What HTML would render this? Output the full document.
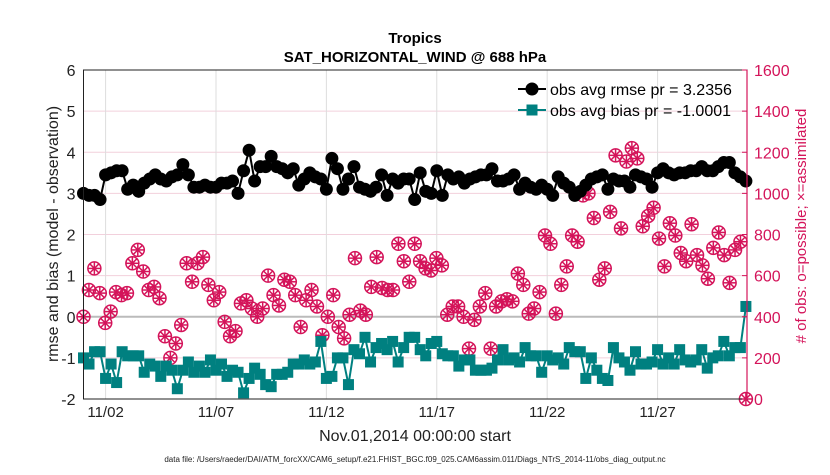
<!DOCTYPE html>
<html><head><meta charset="utf-8"><style>
body{margin:0;background:#fff;width:830px;height:470px;overflow:hidden;font-family:"Liberation Sans",sans-serif}
</style></head><body>
<svg id="chart" width="830" height="470" xmlns="http://www.w3.org/2000/svg" font-family="Liberation Sans, sans-serif">
<rect x="0" y="0" width="830" height="470" fill="#fff"/>
<g id="grid"></g><g id="series"></g><g id="axes"></g>
</svg>
<script>
const rmse=[3.0,2.95,2.95,2.85,3.45,3.5,3.55,3.55,3.1,3.2,3.05,3.25,3.35,3.45,3.35,3.3,3.4,3.45,3.7,3.45,3.15,3.15,3.2,3.15,3.15,3.25,3.25,3.3,3.0,3.55,4.05,3.3,3.65,3.65,3.9,3.65,3.6,3.5,3.6,3.2,3.35,3.5,3.4,3.35,3.1,3.85,3.6,3.1,3.35,3.65,3.15,3.1,3.05,3.15,3.45,2.95,3.35,3.25,3.35,3.35,2.85,
3.5,3.05,3.0,3.55,2.95,3.45,3.35,3.4,3.25,3.35,3.4,3.45,3.45,3.6,3.3,3.3,3.35,3.45,3.1,3.25,3.15,3.1,3.2,3.1,2.95,3.4,3.25,3.15,2.95,3.05,3.2,3.35,3.4,3.45,3.1,3.35,3.3,3.3,3.15,3.45,3.4,3.35,3.15,3.5,3.6,3.5,3.45,3.5,3.5,3.55,3.55,3.65,3.55,3.55,3.65,3.75,3.75,3.5,3.4,3.3];
const bias=[-1.0,-1.15,-0.85,-0.85,-1.5,-1.15,-1.6,-0.85,-0.95,-0.95,-0.95,-1.35,-1.15,-1.2,-1.45,-1.2,-1.3,-1.75,-1.3,-1.1,-1.35,-1.2,-1.35,-1.05,-1.3,-1.15,-1.45,-1.3,-1.35,-1.85,-1.5,-1.25,-1.4,-1.65,-1.7,-1.4,-1.4,-1.35,-1.15,-1.15,-1.05,-1.15,-1.1,-0.6,-1.5,-1.45,-1.0,-1.0,-1.65,-0.8,-0.9,-0.5,-1.1,-0.75,-0.65,-0.8,-0.6,-1.1,-0.75,-0.5,-0.5,
-0.8,-0.95,-0.65,-0.6,-0.9,-0.95,-0.95,-1.2,-1.05,-1.05,-1.3,-1.3,-1.3,-1.25,-1.05,-0.8,-1.05,-1.0,-1.1,-0.75,-0.95,-0.95,-1.35,-0.95,-1.05,-1.0,-1.15,-0.75,-0.85,-0.85,-1.5,-1.0,-1.3,-1.5,-1.55,-0.75,-1.0,-1.1,-1.3,-0.85,-1.15,-1.15,-1.1,-0.8,-1.15,-1.0,-1.15,-0.8,-1.05,-1.1,-1.05,-0.8,-1.25,-1.0,-0.95,-0.6,-0.95,-0.75,-0.75,0.25];
const nobs=[400,530,635,515,370,425,520,505,515,660,725,620,530,545,490,305,200,270,360,660,570,660,690,555,480,520,375,305,330,465,480,440,400,440,600,505,455,580,570,505,350,480,530,450,310,400,505,350,295,410,685,430,410,545,690,540,530,530,755,670,
570,755,670,635,625,685,650,410,450,450,400,245,385,450,515,245,450,475,485,475,610,555,415,440,520,795,755,415,555,645,795,765,990,1000,880,580,635,910,1185,830,1155,1220,1170,840,890,930,780,645,855,795,710,670,850,700,650,585,735,810,700,565,725,765,0];
const leftTicks=[-2,-1,0,1,2,3,4,5,6];
const rightTicks=[0,200,400,600,800,1000,1200,1400,1600];
const dayTicks=[1,6,11,16,21,26];
const dayLabels=["11/02","11/07","11/12","11/17","11/22","11/27"];
const X0=83.5,X1=747,Y0=399,Y1=70;
const fx=d=>X0+d*(X1-X0)/30.05;
const fy=v=>Y0-(v+2)*(Y0-Y1)/8;
const fr=c=>Y0-c*(Y0-Y1)/1600;
const NS="http://www.w3.org/2000/svg";
function mk(p,t,a,txt){const e=document.createElementNS(NS,t);for(const k in a)e.setAttribute(k,a[k]);if(txt!==undefined)e.textContent=txt;p.appendChild(e);return e;}
const G=document.getElementById('grid'),S=document.getElementById('series'),A=document.getElementById('axes');
leftTicks.forEach(v=>{const l=mk(G,'line',{x1:X0,x2:X1,y1:fy(v),y2:fy(v),stroke:'#f2d0dc','stroke-width':1});

});
dayTicks.forEach(d=>{const l=mk(G,'line',{x1:fx(d),x2:fx(d),y1:Y1,y2:Y0,stroke:'#ddd','stroke-width':1});

});
const z=mk(G,'line',{x1:X0,x2:X1,y1:fy(0),y2:fy(0),stroke:'#bbb','stroke-width':2});


const dx=i=>30*i/(rmse.length-1);
const og=mk(S,'g',{});


nobs.forEach((c,i)=>{const x=fx(30*i/(nobs.length-1)),y=fr(c);
const m=mk(og,'g',{stroke:'#d4145a','stroke-width':1.5,fill:'none'});


mk(m,'circle',{cx:x,cy:y,r:6.5});
for(let k=0;k<4;k++){const a=k*Math.PI/4;mk(m,'line',{x1:x-6.5*Math.cos(a),y1:y-6.5*Math.sin(a),x2:x+6.5*Math.cos(a),y2:y+6.5*Math.sin(a)});}
});
const bp=mk(S,'polyline',{points:bias.map((v,i)=>fx(30*i/(bias.length-1))+','+fy(v)).join(' '),fill:'none',stroke:'#008080','stroke-width':2});


bias.forEach((v,i)=>{const r=mk(S,'rect',{x:fx(30*i/(bias.length-1))-5.5,y:fy(v)-5.5,width:11,height:11,fill:'#008080'});

});
const rp=mk(S,'polyline',{points:rmse.map((v,i)=>fx(dx(i))+','+fy(v)).join(' '),fill:'none',stroke:'#000','stroke-width':2});


rmse.forEach((v,i)=>{const c=mk(S,'circle',{cx:fx(dx(i)),cy:fy(v),r:6.5,fill:'#000'});

});
const fr0=mk(A,'rect',{x:X0,y:Y1,width:X1-X0,height:Y0-Y1,fill:'none',stroke:'#222','stroke-width':1});


const ra=mk(A,'line',{x1:X1,x2:X1,y1:Y1,y2:Y0,stroke:'#d4145a','stroke-width':1.2});


leftTicks.forEach(v=>{const t=mk(A,'text',{x:X0-8,y:fy(v)+6,'text-anchor':'end','font-size':16,fill:'#222'},String(v));

});
rightTicks.forEach(v=>{const t=mk(A,'text',{x:X1+7,y:fr(v)+6,'font-size':16,fill:'#d4145a'},String(v));


mk(A,'line',{x1:X1-5,x2:X1,y1:fr(v),y2:fr(v),stroke:'#d4145a'});});
dayTicks.forEach((d,i)=>{const t=mk(A,'text',{x:fx(d),y:417,'text-anchor':'middle','font-size':15,fill:'#222'},dayLabels[i]);

});
</script>
<svg style="position:absolute;left:0;top:0" width="830" height="470" font-family="Liberation Sans, sans-serif">
<text x="415" y="43" text-anchor="middle" font-size="15" font-weight="bold">Tropics</text>
<text x="415" y="62" text-anchor="middle" font-size="15" font-weight="bold">SAT_HORIZONTAL_WIND @ 688 hPa</text>
<text transform="translate(58,234) rotate(-90)" text-anchor="middle" font-size="16" fill="#222">rmse and bias (model - observation)</text>
<text transform="translate(806,226) rotate(-90)" text-anchor="middle" font-size="15" fill="#d4145a"># of obs: o=possible; ×=assimilated</text>
<text x="415" y="441" text-anchor="middle" font-size="16" fill="#222">Nov.01,2014 00:00:00 start</text>
<text x="415" y="462" text-anchor="middle" font-size="8" fill="#222">data file: /Users/raeder/DAI/ATM_forcXX/CAM6_setup/f.e21.FHIST_BGC.f09_025.CAM6assim.011/Diags_NTrS_2014-11/obs_diag_output.nc</text>
<g>
<line x1="518" x2="546" y1="89" y2="89" stroke="#000" stroke-width="2"/><circle cx="532" cy="89" r="6.5"/>
<text x="550" y="95" font-size="16">obs avg rmse pr = 3.2356</text>
<line x1="518" x2="546" y1="110" y2="110" stroke="#008080" stroke-width="2"/><rect x="526.5" y="104.5" width="11" height="11" fill="#008080"/>
<text x="550" y="116" font-size="16">obs avg bias pr = -1.0001</text>
</g>
</svg>
</body></html>
